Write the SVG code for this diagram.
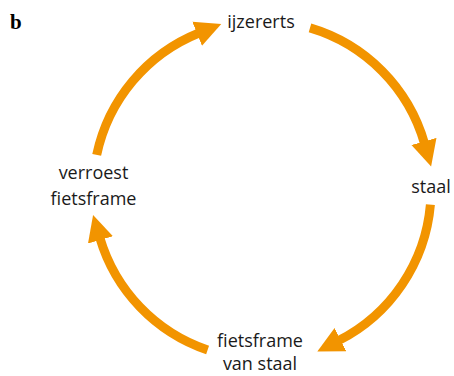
<svg xmlns="http://www.w3.org/2000/svg" width="454" height="376" viewBox="0 0 454 376">
<style>
.lbl{font-family:"Open Sans","Noto Sans",sans-serif;font-size:18px;fill:#1a1a1a;text-anchor:middle}
.arc{fill:none;stroke:#F29400;stroke-width:9}
</style>
<defs>
<marker id="ah" markerUnits="userSpaceOnUse" markerWidth="30" markerHeight="30" refX="2" refY="13" orient="auto" viewBox="0 0 30 26">
<polygon points="0,0 26,13 0,26" fill="#F29400"/>
</marker>
</defs>
<rect width="454" height="376" fill="#fff"/>
<text x="10" y="29" font-family="Liberation Serif,serif" font-weight="bold" font-size="21" fill="#000">b</text>
<g id="connectors">
<path class="arc" d="M96.7,154.9 A169,169 0 0 1 199,33" marker-end="url(#ah)"/>
<path class="arc" d="M310,27.9 A169,169 0 0 1 424.5,143.4" marker-end="url(#ah)"/>
<path class="arc" d="M430.4,204.7 A169,169 0 0 1 338.7,340.6" marker-end="url(#ah)"/>
<path class="arc" d="M207.6,350 A169,169 0 0 1 99.9,238" marker-end="url(#ah)"/>
</g>
<g id="ijzererts"><text class="lbl" x="261" y="28">ijzererts</text></g>
<g id="staal"><text class="lbl" x="431" y="193">staal</text></g>
<g id="fietsframe-van-staal"><text class="lbl" x="260" y="347">fietsframe</text><text class="lbl" x="260" y="370">van staal</text></g>
<g id="verroest-fietsframe"><text class="lbl" x="93.5" y="179">verroest</text><text class="lbl" x="93.5" y="205">fietsframe</text></g>
</svg>
